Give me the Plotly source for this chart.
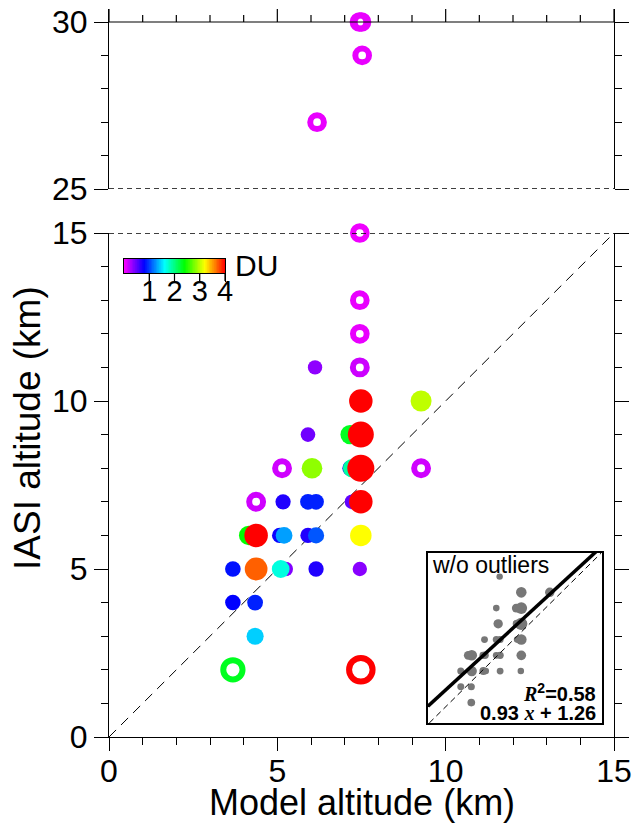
import numpy as np
import plotly.graph_objects as go

# ---------------- data ----------------
# filled points (used in the fit, "w/o outliers")
model_alt = [6.12, 7.48, 9.27, 5.91, 7.16, 7.48, 5.97, 6.03, 7.16, 7.22, 7.48,
             5.17, 5.91, 6.15, 7.22, 7.48, 4.15, 4.37, 5.07, 5.20, 5.91, 6.15,
             7.48, 3.68, 4.37, 5.25, 5.10, 6.15, 7.45, 3.68, 4.34, 4.34]
iasi_alt = [11, 10, 10, 9, 9, 9, 8, 8, 8, 8, 8,
            7, 7, 7, 7, 7, 6, 6, 6, 6, 6, 6,
            6, 5, 5, 5, 5, 5, 5, 4, 4, 3]
du_val = [0.35, 4.0, 3.0, 0.45, 2.3, 5.0, 0.75, 2.85, 0.75, 1.9, 5.4,
          0.7, 0.9, 0.9, 0.5, 4.0, 2.4, 4.0, 0.77, 1.3, 0.7, 1.07,
          3.2, 0.85, 3.7, 0.4, 1.7, 0.7, 0.37, 0.8, 0.9, 1.45]

# outliers (hollow rings)
out_model = [7.44, 7.50, 7.52, 6.18, 7.45, 7.45, 7.45, 7.45, 5.14, 4.37, 9.27, 3.68, 7.48]
out_iasi = [30, 30, 29, 27, 15, 13, 12, 11, 8, 7, 8, 2, 2]
out_du = [0.07, 0.07, 0.07, 0.07, 0.05, 0.07, 0.07, 0.16, 0.15, 0.15, 0.15, 2.3, 4.0]

fit_slope = 0.93
fit_intercept = 1.26
fit_r2 = 0.58

x_range = [0, 15]
du_range = [0, 4]
du_ticks = [1, 2, 3, 4]

# ---------------- styling ----------------
FONT = "Liberation Sans, Arial, Helvetica, sans-serif"
rainbow = [[0.0, "#ff00ff"], [0.2, "#0000ff"], [0.4, "#00ffff"],
           [0.6, "#00ff00"], [0.8, "#ffff00"], [1.0, "#ff0000"]]

W, H_FIG = 641, 831
L, R = 109, 27
T, B_PX = 9, 737            # top / bottom pixel of the plotting area
H = B_PX - T
PX_PER_KM = 33.4            # vertical scale of the upper panel

def fx_(px):
    return (px - L) / (W - L - R)

def fy_(px):
    return (B_PX - px) / H

def msize(d):
    return 13.5 + 2.5 * np.asarray(d, dtype=float)

mx = np.array(model_alt); my = np.array(iasi_alt); md = np.array(du_val)
order = np.argsort(md, kind="stable")
mx, my, md = mx[order], my[order], md[order]

ox = np.array(out_model); oy = np.array(out_iasi); od = np.array(out_du)
top = oy > 20

y2_top = 25 + (189 - T) / PX_PER_KM   # range top so that 30 km sits 13 px below the frame top

fig = go.Figure()

# tick marks rising from the 30 km line in the upper panel
tx, ty = [], []
for v in range(int(x_range[0]), int(x_range[1]) + 1):
    ln = (13 if v % 5 == 0 else 7) / PX_PER_KM
    tx += [v, v, None]
    ty += [30, 30 + ln, None]
fig.add_trace(go.Scatter(x=tx, y=ty, mode="lines", xaxis="x2", yaxis="y2",
                         line=dict(color="black", width=1.2),
                         showlegend=False, hoverinfo="skip"))

fig.add_trace(go.Scatter(
    x=mx, y=my, mode="markers", xaxis="x", yaxis="y", cliponaxis=False,
    marker=dict(size=msize(md), color=md, colorscale=rainbow, cmin=du_range[0], cmax=du_range[1],
                opacity=1, line=dict(width=0), showscale=False),
    showlegend=False, hoverinfo="skip"))

fig.add_trace(go.Scatter(
    x=ox[~top], y=oy[~top], mode="markers", xaxis="x", yaxis="y", cliponaxis=False,
    marker=dict(symbol="circle-open", size=msize(od[~top]), color=od[~top], opacity=1,
                colorscale=rainbow, cmin=du_range[0], cmax=du_range[1], line=dict(width=6)),
    showlegend=False, hoverinfo="skip"))

fig.add_trace(go.Scatter(
    x=ox[top], y=oy[top], mode="markers", xaxis="x2", yaxis="y2", cliponaxis=False,
    marker=dict(symbol="circle-open", size=msize(od[top]), color=od[top], opacity=1,
                colorscale=rainbow, cmin=du_range[0], cmax=du_range[1], line=dict(width=6)),
    showlegend=False, hoverinfo="skip"))

# inset
IX = [1.62, 12.55]
IY = [1.70, 12.50]
fig.add_trace(go.Scatter(
    x=mx, y=my, mode="markers", xaxis="x3", yaxis="y3", cliponaxis=True,
    marker=dict(size=0.45 * msize(md), color="#777777", opacity=1, line=dict(width=0)),
    showlegend=False, hoverinfo="skip"))
fitx = np.array(IX)
fig.add_trace(go.Scatter(
    x=fitx, y=fit_slope * fitx + fit_intercept, mode="lines", xaxis="x3", yaxis="y3",
    line=dict(color="black", width=3.5), showlegend=False, hoverinfo="skip"))

# manual horizontal colour bar
edges = np.linspace(du_range[0], du_range[1], 161)
mids = 0.5 * (edges[:-1] + edges[1:])
fig.add_trace(go.Heatmap(
    x=edges, y=[0, 1], z=[mids], xaxis="x4", yaxis="y4",
    colorscale=rainbow, zmin=du_range[0], zmax=du_range[1], showscale=False,
    hoverinfo="skip"))

axis_common = dict(showgrid=False, zeroline=False, linecolor="black", linewidth=1.2,
                   tickcolor="black", tickwidth=1.2,
                   tickfont=dict(size=32, family=FONT, color="black"))
minor_out = dict(dtick=1, ticks="outside", ticklen=7, tickwidth=1.2, tickcolor="black")

cb_dom = [fx_(124), fx_(225)]

fig.update_layout(
    width=W, height=H_FIG, margin=dict(l=L, r=R, t=T, b=H_FIG - B_PX, autoexpand=False),
    paper_bgcolor="white", plot_bgcolor="white",
    font=dict(family=FONT, color="black"),
    xaxis=dict(domain=[0, 1], range=x_range, anchor="y", showline=True,
               ticks="outside", ticklen=13, tick0=0, dtick=5, minor=minor_out,
               ticklabelstandoff=-8, **axis_common),
    yaxis=dict(domain=[0, fy_(233)], range=[0, 15], anchor="x", showline=True, mirror="ticks",
               ticks="outside", ticklen=14, tick0=0, dtick=5, minor=minor_out,
               **axis_common),
    xaxis2=dict(domain=[0, 1], range=x_range, anchor="y2", side="top", showline=False,
                showgrid=False, zeroline=False, ticks="", showticklabels=False),
    yaxis2=dict(domain=[fy_(189), 1], range=[25, y2_top], anchor="x2", showline=True, mirror="ticks",
                ticks="outside", ticklen=14, tick0=25, dtick=5, minor=minor_out,
                **axis_common),
    xaxis3=dict(domain=[fx_(428), fx_(602)], range=IX, anchor="y3",
                showline=True, mirror=True, linewidth=2, linecolor="black",
                showticklabels=False, ticks="", showgrid=False, zeroline=False),
    yaxis3=dict(domain=[fy_(723), fy_(553)], range=IY, anchor="x3",
                showline=True, mirror=True, linewidth=2, linecolor="black",
                showticklabels=False, ticks="", showgrid=False, zeroline=False),
    xaxis4=dict(domain=cb_dom, range=du_range, anchor="y4",
                showline=True, mirror=True, linewidth=1.2, linecolor="black",
                ticks="outside", ticklen=8, tickwidth=1.2, tickcolor="black",
                tickvals=du_ticks, ticklabelstandoff=-16,
                tickfont=dict(size=29, family=FONT, color="black"),
                showgrid=False, zeroline=False),
    yaxis4=dict(domain=[fy_(273), fy_(259)], range=[0, 1], anchor="x4",
                showline=True, mirror=True, linewidth=1.2, linecolor="black",
                showticklabels=False, ticks="", showgrid=False, zeroline=False),
)

# colour-bar tick marks below the bar, paper coords
cb_tick_path = ""
for v in du_ticks:
    px = cb_dom[0] + (v - du_range[0]) / (du_range[1] - du_range[0]) * (cb_dom[1] - cb_dom[0])
    cb_tick_path += f"M{px:.5f},{fy_(273):.5f} L{px:.5f},{fy_(281):.5f} "

shapes = [
    dict(type="path", xref="paper", yref="paper", path=cb_tick_path.strip(),
         line=dict(color="black", width=1.2)),
    dict(type="line", xref="paper", yref="y2", x0=0, x1=1, y0=30, y1=30,
         line=dict(color="black", width=1.2)),
    dict(type="line", xref="paper", yref="y2", x0=0, x1=1, y0=25, y1=25,
         line=dict(color="black", width=1.3, dash="5px,4px")),
    dict(type="line", xref="paper", yref="y", x0=0, x1=1, y0=15, y1=15,
         line=dict(color="black", width=1.3, dash="5px,4px")),
    dict(type="line", xref="x", yref="y", x0=0, y0=0, x1=15, y1=15,
         line=dict(color="black", width=1, dash="10px,7px"), layer="below"),
    dict(type="line", xref="x3", yref="y3", x0=IY[0], y0=IY[0], x1=IY[1], y1=IY[1],
         line=dict(color="black", width=1, dash="6px,4px")),
]
fig.update_layout(shapes=shapes)

serif = "Liberation Serif, Times New Roman, serif"
ann = [
    dict(text="IASI altitude (km)", x=fx_(28), y=fy_(428), textangle=-90,
         font=dict(size=37, family=FONT, color="black")),
    dict(text="Model altitude (km)", x=0.5, y=fy_(803),
         font=dict(size=36, family=FONT, color="black")),
    dict(text="DU", x=fx_(233), y=fy_(265), xanchor="left",
         font=dict(size=30, family=FONT, color="black")),
    dict(text="w/o outliers", x=fx_(430), y=fy_(565), xanchor="left",
         font=dict(size=23, family=FONT, color="black")),
    dict(text=f"<b><span style='font-family:{serif}'><i>R</i></span><sup>2</sup>=%.2f</b>" % fit_r2,
         x=fx_(598), y=fy_(692), xanchor="right",
         font=dict(size=20, family=FONT, color="black")),
    dict(text=f"<b>%.2f <span style='font-family:{serif}'><i>x</i></span> + %.2f</b>" % (fit_slope, fit_intercept),
         x=fx_(598), y=fy_(713), xanchor="right",
         font=dict(size=20, family=FONT, color="black")),
]
for a in ann:
    a.update(xref="paper", yref="paper", showarrow=False)
    a.setdefault("xanchor", "center")
    a.setdefault("yanchor", "middle")
fig.update_layout(annotations=ann)

fig.write_html("out.html")
